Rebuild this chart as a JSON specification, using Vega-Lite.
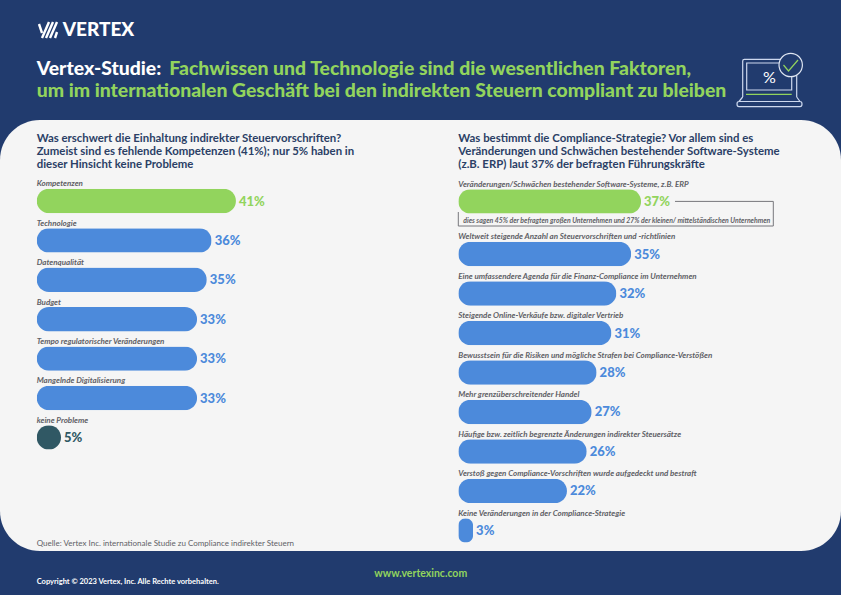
{"$schema":"https://vega.github.io/schema/vega-lite/v6.json","background":"#213b6e","padding":0,"spacing":0,"config":{"view":{"stroke":null},"concat":{"spacing":0},"font":"Lato","text":{"font":"Lato","baseline":"middle","align":"left"}},"datasets":{"links":[{"kategorie":"Kompetenzen","anteil":0.41,"typ":"Hervorhebung"},{"kategorie":"Technologie","anteil":0.36,"typ":"Standard"},{"kategorie":"Datenqualität","anteil":0.35,"typ":"Standard"},{"kategorie":"Budget","anteil":0.33,"typ":"Standard"},{"kategorie":"Tempo regulatorischer Veränderungen","anteil":0.33,"typ":"Standard"},{"kategorie":"Mangelnde Digitalisierung","anteil":0.33,"typ":"Standard"},{"kategorie":"keine Probleme","anteil":0.05,"typ":"Keine"}],"rechts":[{"kategorie":"Veränderungen/Schwächen bestehender Software-Systeme, z.B. ERP","anteil":0.37,"typ":"Hervorhebung"},{"kategorie":"Weltweit steigende Anzahl an Steuervorschriften und -richtlinien","anteil":0.35,"typ":"Standard"},{"kategorie":"Eine umfassendere Agenda für die Finanz-Compliance im Unternehmen","anteil":0.32,"typ":"Standard"},{"kategorie":"Steigende Online-Verkäufe bzw. digitaler Vertrieb","anteil":0.31,"typ":"Standard"},{"kategorie":"Bewusstsein für die Risiken und mögliche Strafen bei Compliance-Verstößen","anteil":0.28,"typ":"Standard"},{"kategorie":"Mehr grenzüberschreitender Handel","anteil":0.27,"typ":"Standard"},{"kategorie":"Häufige bzw. zeitlich begrenzte Änderungen indirekter Steuersätze","anteil":0.26,"typ":"Standard"},{"kategorie":"Verstoß gegen Compliance-Vorschriften wurde aufgedeckt und bestraft","anteil":0.22,"typ":"Standard"},{"kategorie":"Keine Veränderungen in der Compliance-Strategie","anteil":0.03,"typ":"Standard"}],"kopf":[{"spalte":"links","zeile":"1","text":"Vertex-Studie:","typ":"Kopfzeile"},{"spalte":"rechts","zeile":"1","text":"Fachwissen und Technologie sind die wesentlichen Faktoren,","typ":"Hervorhebung"},{"spalte":"links","zeile":"2","text":"um im internationalen Geschäft bei den indirekten Steuern compliant zu bleiben","typ":"Hervorhebung"}],"fragenLinks":[{"spalte":"a","zeile":"1","text":"Was erschwert die Einhaltung indirekter Steuervorschriften?"},{"spalte":"a","zeile":"2","text":"Zumeist sind es fehlende Kompetenzen (41%); nur 5% haben in"},{"spalte":"a","zeile":"3","text":"dieser Hinsicht keine Probleme"}],"fragenRechts":[{"spalte":"a","zeile":"1","text":"Was bestimmt die Compliance-Strategie? Vor allem sind es"},{"spalte":"a","zeile":"2","text":"Veränderungen und Schwächen bestehender Software-Systeme"},{"spalte":"a","zeile":"3","text":"(z.B. ERP) laut 37% der befragten Führungskräfte"}]},"vconcat":[{"width":841,"height":120,"resolve":{"scale":{"x":"independent","y":"independent"}},"layer":[{"data":{"name":"kopf"},"mark":{"type":"text","fontSize":19.4,"fontWeight":900},"encoding":{"x":{"field":"spalte","type":"nominal","axis":null,"scale":{"type":"point","padding":0,"domain":["links","rechts"],"range":[36.7,169.3]}},"y":{"field":"zeile","type":"nominal","axis":null,"scale":{"type":"point","padding":0,"domain":["1","2"],"range":[68.8,91.2]}},"text":{"field":"text"},"color":{"field":"typ","legend":null,"scale":{"domain":["Hervorhebung","Standard","Keine","Kopfzeile"],"range":["#92d45d","#4c8adb","#305864","#ffffff"]}}}},{"data":{"values":[{"text":"VERTEX"}]},"mark":{"type":"text","fontSize":19,"fontWeight":900,"color":"#ffffff"},"encoding":{"x":{"field":"text","type":"nominal","axis":null,"scale":{"type":"point","padding":0,"range":[62.7,62.7]}},"y":{"field":"text","type":"nominal","axis":null,"scale":{"type":"point","padding":0,"range":[30,30]}},"text":{"field":"text"}}},{"data":{"values":[{"icon":"Logo"}]},"mark":{"type":"point","opacity":1,"size":4,"filled":false,"stroke":"#ffffff","strokeWidth":2.4,"shape":"M-9,-6 L-6,3 M-6,8 L1,-8 M-2,8 L5,-8 M2,8 L9,-8 M7,8 L9,2"},"encoding":{"x":{"field":"icon","type":"nominal","axis":null,"scale":{"type":"point","padding":0,"range":[48,48]}},"y":{"field":"icon","type":"nominal","axis":null,"scale":{"type":"point","padding":0,"range":[30,30]}}}},{"data":{"values":[{"icon":"Laptop"}]},"mark":{"type":"point","opacity":1,"size":4,"filled":false,"stroke":"#cdd8ee","strokeWidth":1.2,"shape":"M-27.3,14 V-22 Q-27.3,-23.7 -25.6,-23.7 H25 Q26.7,-23.7 26.7,-22 V14 M-23.3,-20 H21.7 V7 H-23.3 Z M-31,18.5 H30 Q32,18.5 32,21 Q32,23.7 30,23.7 H-31 Q-33,23.7 -33,21 Q-33,18.5 -31,18.5 Z M-27.3,14 L-31,18.5 M26.7,14 L30,18.5"},"encoding":{"x":{"field":"icon","type":"nominal","axis":null,"scale":{"type":"point","padding":0,"range":[770,770]}},"y":{"field":"icon","type":"nominal","axis":null,"scale":{"type":"point","padding":0,"range":[83,83]}}}},{"data":{"values":[{"icon":"Laptop"}]},"mark":{"type":"point","opacity":1,"size":4,"filled":false,"stroke":"#92d45d","strokeWidth":1.2,"shape":"M-24,11.3 H21.7"},"encoding":{"x":{"field":"icon","type":"nominal","axis":null,"scale":{"type":"point","padding":0,"range":[770,770]}},"y":{"field":"icon","type":"nominal","axis":null,"scale":{"type":"point","padding":0,"range":[83,83]}}}},{"data":{"values":[{"icon":"Laptop"}]},"mark":{"type":"point","opacity":1,"size":4,"filled":true,"fill":"#213b6e","stroke":"#dfe6f2","strokeWidth":1.2,"shape":"M32.4,-18 A11.7,11.7 0 1 1 9,-18 A11.7,11.7 0 1 1 32.4,-18 Z"},"encoding":{"x":{"field":"icon","type":"nominal","axis":null,"scale":{"type":"point","padding":0,"range":[770,770]}},"y":{"field":"icon","type":"nominal","axis":null,"scale":{"type":"point","padding":0,"range":[83,83]}}}},{"data":{"values":[{"icon":"Laptop"}]},"mark":{"type":"point","opacity":1,"size":4,"filled":false,"stroke":"#92d45d","strokeWidth":1.2,"shape":"M13.5,-18 L18.5,-12 L28,-23"},"encoding":{"x":{"field":"icon","type":"nominal","axis":null,"scale":{"type":"point","padding":0,"range":[770,770]}},"y":{"field":"icon","type":"nominal","axis":null,"scale":{"type":"point","padding":0,"range":[83,83]}}}},{"data":{"values":[{"text":"%"}]},"mark":{"type":"text","fontSize":16,"color":"#ffffff","align":"center"},"encoding":{"x":{"field":"text","type":"nominal","axis":null,"scale":{"type":"point","padding":0,"range":[769.5,769.5]}},"y":{"field":"text","type":"nominal","axis":null,"scale":{"type":"point","padding":0,"range":[78,78]}},"text":{"field":"text"}}}]},{"spacing":0,"hconcat":[{"width":420,"height":431,"resolve":{"scale":{"x":"independent","y":"independent"}},"layer":[{"data":{"values":[{"flaeche":"Panel links"}]},"mark":{"type":"rect","fill":"#f5f5f5","cornerRadiusTopLeft":40,"cornerRadiusBottomLeft":40},"encoding":{"x":{"value":0},"x2":{"value":"width"},"y":{"value":0},"y2":{"value":"height"}}},{"data":{"name":"fragenLinks"},"mark":{"type":"text","fontSize":11.4,"fontWeight":700,"color":"#2b3f66"},"encoding":{"x":{"field":"spalte","type":"nominal","axis":null,"scale":{"type":"point","padding":0,"range":[36.7,36.7]}},"y":{"field":"zeile","type":"nominal","axis":null,"scale":{"type":"point","padding":0,"domain":["1","2","3"],"range":[19.3,45.3]}},"text":{"field":"text"}}},{"data":{"name":"links"},"mark":{"type":"bar","height":24.4,"cornerRadius":12.2},"encoding":{"x":{"field":"anteil","type":"quantitative","axis":null,"scale":{"domain":[0,0.5],"range":[36.7,279.7]}},"y":{"field":"kategorie","type":"nominal","axis":null,"scale":{"type":"point","padding":0,"domain":["Kompetenzen","Technologie","Datenqualität","Budget","Tempo regulatorischer Veränderungen","Mangelnde Digitalisierung","keine Probleme"],"range":[81,317.4]}},"color":{"field":"typ","legend":null,"scale":{"domain":["Hervorhebung","Standard","Keine","Kopfzeile"],"range":["#92d45d","#4c8adb","#305864","#ffffff"]}}}},{"data":{"name":"links"},"mark":{"type":"text","fontSize":13,"fontWeight":900,"dx":3,"dy":0.5},"encoding":{"x":{"field":"anteil","type":"quantitative","axis":null,"scale":{"domain":[0,0.5],"range":[36.7,279.7]}},"y":{"field":"kategorie","type":"nominal","axis":null,"scale":{"type":"point","padding":0,"domain":["Kompetenzen","Technologie","Datenqualität","Budget","Tempo regulatorischer Veränderungen","Mangelnde Digitalisierung","keine Probleme"],"range":[81,317.4]}},"text":{"field":"anteil","type":"quantitative","format":".0%"},"color":{"field":"typ","legend":null,"scale":{"domain":["Hervorhebung","Standard","Keine","Kopfzeile"],"range":["#92d45d","#4c8adb","#305864","#ffffff"]}}}},{"data":{"name":"links"},"mark":{"type":"text","fontSize":8,"fontWeight":700,"fontStyle":"italic","color":"#5f5f66","dy":-16.6},"encoding":{"x":{"datum":0,"type":"quantitative","axis":null,"scale":{"domain":[0,0.5],"range":[36.7,279.7]}},"y":{"field":"kategorie","type":"nominal","axis":null,"scale":{"type":"point","padding":0,"domain":["Kompetenzen","Technologie","Datenqualität","Budget","Tempo regulatorischer Veränderungen","Mangelnde Digitalisierung","keine Probleme"],"range":[81,317.4]}},"text":{"field":"kategorie"}}},{"data":{"values":[{"text":"Quelle: Vertex Inc. internationale Studie zu Compliance indirekter Steuern"}]},"mark":{"type":"text","fontSize":8,"color":"#5f5f66"},"encoding":{"x":{"field":"text","type":"nominal","axis":null,"scale":{"type":"point","padding":0,"range":[36.7,36.7]}},"y":{"field":"text","type":"nominal","axis":null,"scale":{"type":"point","padding":0,"range":[424,424]}},"text":{"field":"text"}}}]},{"width":421,"height":431,"resolve":{"scale":{"x":"independent","y":"independent"}},"layer":[{"data":{"values":[{"flaeche":"Panel rechts"}]},"mark":{"type":"rect","fill":"#f5f5f5","cornerRadiusTopRight":40,"cornerRadiusBottomRight":40},"encoding":{"x":{"value":0},"x2":{"value":"width"},"y":{"value":0},"y2":{"value":"height"}}},{"data":{"name":"fragenRechts"},"mark":{"type":"text","fontSize":11.4,"fontWeight":700,"color":"#2b3f66"},"encoding":{"x":{"field":"spalte","type":"nominal","axis":null,"scale":{"type":"point","padding":0,"range":[38.3,38.3]}},"y":{"field":"zeile","type":"nominal","axis":null,"scale":{"type":"point","padding":0,"domain":["1","2","3"],"range":[19.3,45.3]}},"text":{"field":"text"}}},{"data":{"values":[{"kategorie":"Veränderungen/Schwächen bestehender Software-Systeme, z.B. ERP","hinweis":"dies sagen 45% der befragten großen Unternehmen und 27% der kleinen/ mittelständischen Unternehmen"}]},"mark":{"type":"point","opacity":1,"size":4,"filled":false,"stroke":"#77777c","strokeWidth":1,"shape":"M216.7,0 H315 V24.6 H0 V10.6"},"encoding":{"x":{"datum":0,"type":"quantitative","axis":null,"scale":{"domain":[0,0.5],"range":[38.3,285.3]}},"y":{"field":"kategorie","type":"nominal","axis":null,"scale":{"type":"point","padding":0,"domain":["Veränderungen/Schwächen bestehender Software-Systeme, z.B. ERP","s1","s2","s3","Weltweit steigende Anzahl an Steuervorschriften und -richtlinien","s4","s5","Eine umfassendere Agenda für die Finanz-Compliance im Unternehmen","s6","s7","Steigende Online-Verkäufe bzw. digitaler Vertrieb","s8","s9","Bewusstsein für die Risiken und mögliche Strafen bei Compliance-Verstößen","s10","s11","Mehr grenzüberschreitender Handel","s12","s13","Häufige bzw. zeitlich begrenzte Änderungen indirekter Steuersätze","s14","s15","Verstoß gegen Compliance-Vorschriften wurde aufgedeckt und bestraft","s16","s17","Keine Veränderungen in der Compliance-Strategie"],"range":[81.4,410.4]}}}},{"data":{"values":[{"kategorie":"Veränderungen/Schwächen bestehender Software-Systeme, z.B. ERP","hinweis":"dies sagen 45% der befragten großen Unternehmen und 27% der kleinen/ mittelständischen Unternehmen"}]},"mark":{"type":"text","fontSize":6.9,"fontWeight":700,"fontStyle":"italic","color":"#5f5f66","dx":5,"dy":19.2},"encoding":{"x":{"datum":0,"type":"quantitative","axis":null,"scale":{"domain":[0,0.5],"range":[38.3,285.3]}},"y":{"field":"kategorie","type":"nominal","axis":null,"scale":{"type":"point","padding":0,"domain":["Veränderungen/Schwächen bestehender Software-Systeme, z.B. ERP","s1","s2","s3","Weltweit steigende Anzahl an Steuervorschriften und -richtlinien","s4","s5","Eine umfassendere Agenda für die Finanz-Compliance im Unternehmen","s6","s7","Steigende Online-Verkäufe bzw. digitaler Vertrieb","s8","s9","Bewusstsein für die Risiken und mögliche Strafen bei Compliance-Verstößen","s10","s11","Mehr grenzüberschreitender Handel","s12","s13","Häufige bzw. zeitlich begrenzte Änderungen indirekter Steuersätze","s14","s15","Verstoß gegen Compliance-Vorschriften wurde aufgedeckt und bestraft","s16","s17","Keine Veränderungen in der Compliance-Strategie"],"range":[81.4,410.4]}},"text":{"field":"hinweis"}}},{"data":{"name":"rechts"},"mark":{"type":"bar","height":24.4,"cornerRadius":12.2},"encoding":{"x":{"field":"anteil","type":"quantitative","axis":null,"scale":{"domain":[0,0.5],"range":[38.3,285.3]}},"y":{"field":"kategorie","type":"nominal","axis":null,"scale":{"type":"point","padding":0,"domain":["Veränderungen/Schwächen bestehender Software-Systeme, z.B. ERP","s1","s2","s3","Weltweit steigende Anzahl an Steuervorschriften und -richtlinien","s4","s5","Eine umfassendere Agenda für die Finanz-Compliance im Unternehmen","s6","s7","Steigende Online-Verkäufe bzw. digitaler Vertrieb","s8","s9","Bewusstsein für die Risiken und mögliche Strafen bei Compliance-Verstößen","s10","s11","Mehr grenzüberschreitender Handel","s12","s13","Häufige bzw. zeitlich begrenzte Änderungen indirekter Steuersätze","s14","s15","Verstoß gegen Compliance-Vorschriften wurde aufgedeckt und bestraft","s16","s17","Keine Veränderungen in der Compliance-Strategie"],"range":[81.4,410.4]}},"color":{"field":"typ","legend":null,"scale":{"domain":["Hervorhebung","Standard","Keine","Kopfzeile"],"range":["#92d45d","#4c8adb","#305864","#ffffff"]}}}},{"data":{"name":"rechts"},"mark":{"type":"text","fontSize":13,"fontWeight":900,"dx":3,"dy":0.5},"encoding":{"x":{"field":"anteil","type":"quantitative","axis":null,"scale":{"domain":[0,0.5],"range":[38.3,285.3]}},"y":{"field":"kategorie","type":"nominal","axis":null,"scale":{"type":"point","padding":0,"domain":["Veränderungen/Schwächen bestehender Software-Systeme, z.B. ERP","s1","s2","s3","Weltweit steigende Anzahl an Steuervorschriften und -richtlinien","s4","s5","Eine umfassendere Agenda für die Finanz-Compliance im Unternehmen","s6","s7","Steigende Online-Verkäufe bzw. digitaler Vertrieb","s8","s9","Bewusstsein für die Risiken und mögliche Strafen bei Compliance-Verstößen","s10","s11","Mehr grenzüberschreitender Handel","s12","s13","Häufige bzw. zeitlich begrenzte Änderungen indirekter Steuersätze","s14","s15","Verstoß gegen Compliance-Vorschriften wurde aufgedeckt und bestraft","s16","s17","Keine Veränderungen in der Compliance-Strategie"],"range":[81.4,410.4]}},"text":{"field":"anteil","type":"quantitative","format":".0%"},"color":{"field":"typ","legend":null,"scale":{"domain":["Hervorhebung","Standard","Keine","Kopfzeile"],"range":["#92d45d","#4c8adb","#305864","#ffffff"]}}}},{"data":{"name":"rechts"},"mark":{"type":"text","fontSize":8,"fontWeight":700,"fontStyle":"italic","color":"#5f5f66","dy":-16.6},"encoding":{"x":{"datum":0,"type":"quantitative","axis":null,"scale":{"domain":[0,0.5],"range":[38.3,285.3]}},"y":{"field":"kategorie","type":"nominal","axis":null,"scale":{"type":"point","padding":0,"domain":["Veränderungen/Schwächen bestehender Software-Systeme, z.B. ERP","s1","s2","s3","Weltweit steigende Anzahl an Steuervorschriften und -richtlinien","s4","s5","Eine umfassendere Agenda für die Finanz-Compliance im Unternehmen","s6","s7","Steigende Online-Verkäufe bzw. digitaler Vertrieb","s8","s9","Bewusstsein für die Risiken und mögliche Strafen bei Compliance-Verstößen","s10","s11","Mehr grenzüberschreitender Handel","s12","s13","Häufige bzw. zeitlich begrenzte Änderungen indirekter Steuersätze","s14","s15","Verstoß gegen Compliance-Vorschriften wurde aufgedeckt und bestraft","s16","s17","Keine Veränderungen in der Compliance-Strategie"],"range":[81.4,410.4]}},"text":{"field":"kategorie"}}}]}]},{"width":841,"height":44,"resolve":{"scale":{"x":"independent","y":"independent"}},"layer":[{"data":{"values":[{"text":"www.vertexinc.com"}]},"mark":{"type":"text","fontSize":10.5,"fontWeight":700,"color":"#92d45d"},"encoding":{"x":{"field":"text","type":"nominal","axis":null,"scale":{"type":"point","padding":0,"range":[374.3,374.3]}},"y":{"field":"text","type":"nominal","axis":null,"scale":{"type":"point","padding":0,"range":[23,23]}},"text":{"field":"text"}}},{"data":{"values":[{"text":"Copyright © 2023 Vertex, Inc. Alle Rechte vorbehalten."}]},"mark":{"type":"text","fontSize":7.5,"fontWeight":700,"color":"#ffffff"},"encoding":{"x":{"field":"text","type":"nominal","axis":null,"scale":{"type":"point","padding":0,"range":[36.7,36.7]}},"y":{"field":"text","type":"nominal","axis":null,"scale":{"type":"point","padding":0,"range":[30.5,30.5]}},"text":{"field":"text"}}}]}]}
